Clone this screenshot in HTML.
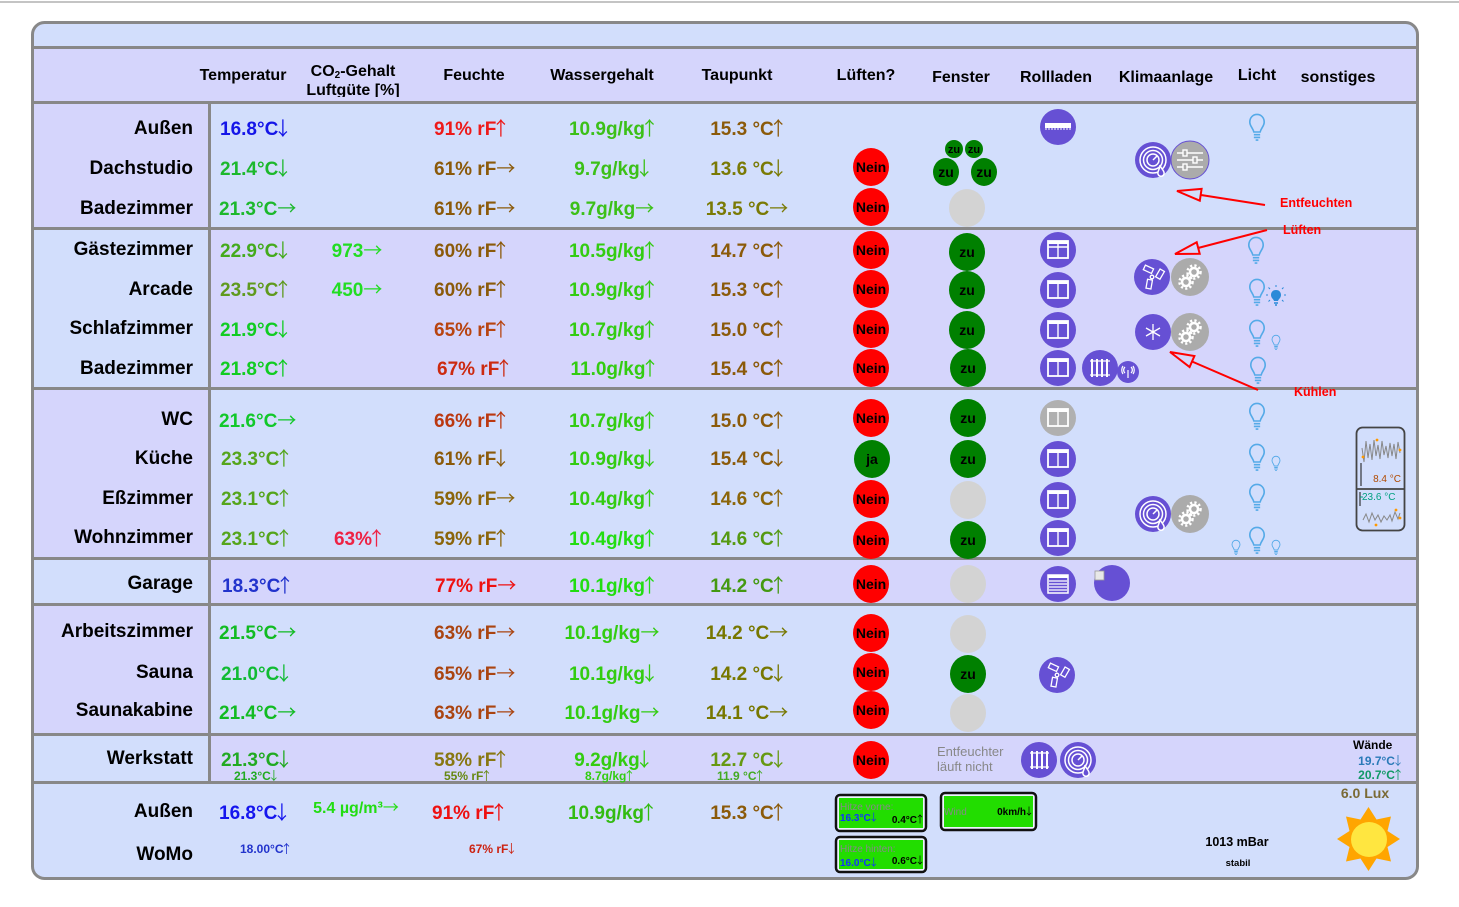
<!DOCTYPE html>
<html><head><meta charset="utf-8"><style>
html,body{margin:0;padding:0;background:#fff;width:1459px;height:907px;overflow:hidden}
svg{display:block}
text{font-family:"Liberation Sans","DejaVu Sans",sans-serif}
.h{font-weight:bold;font-size:16px;text-anchor:middle;fill:#000}
.lb{font-weight:bold;font-size:19px;text-anchor:end;fill:#000}
.v{font-weight:bold;font-size:19px}
.m{text-anchor:middle}
.a{font-weight:normal;font-family:"Noto Sans CJK JP","DejaVu Sans",sans-serif}
.c{font-weight:bold;font-size:14px;text-anchor:middle;fill:#000}
.s{font-weight:bold;font-size:12px}
.r{font-weight:bold;font-size:12.5px;fill:#f00}
</style></head><body>
<svg width="1459" height="907" xmlns="http://www.w3.org/2000/svg">
<defs>
<symbol id="bulb" viewBox="0 0 20 32">
<path d="M10 1.5C5 1.5 2 5.5 2 10C2 14.5 5.5 16.5 6.5 21L13.5 21C14.5 16.5 18 14.5 18 10C18 5.5 15 1.5 10 1.5Z" fill="none" stroke="#55aae8" stroke-width="1.8"/>
<path d="M6.5 24L13.5 24M6.5 27L13.5 27M8.5 30L11.5 30" stroke="#55aae8" stroke-width="1.8"/>
</symbol>
<g id="win"><circle r="18" fill="#6650d4"/><rect x="-10" y="-9" width="20" height="17" fill="none" stroke="#fff" stroke-width="1.8"/><rect x="-10" y="-9" width="20" height="3" fill="#fff"/><line x1="0" y1="-6" x2="0" y2="8" stroke="#fff" stroke-width="1.4"/></g>
<g id="gears"><circle r="19" fill="#ababab"/><g fill="none" stroke="#fff"><circle cx="4" cy="-5" r="4" stroke-width="2.5"/><circle cx="4" cy="-5" r="6.5" stroke-width="2.5" stroke-dasharray="2.2 2.2"/><circle cx="-4" cy="5" r="4" stroke-width="2.5"/><circle cx="-4" cy="5" r="6.5" stroke-width="2.5" stroke-dasharray="2.2 2.2"/></g></g>
<g id="dehum"><circle r="18" fill="#6650d4"/><g fill="none" stroke="#fff" stroke-width="1.5"><circle r="13"/><circle r="9.5"/><circle r="6"/><line x1="0" y1="0" x2="4" y2="-4"/><path d="M7 5C7 9 4 12 5 14C6 17 10 17 11 14C12 11 8 9 7 5Z" fill="#6650d4"/></g></g>
<g id="fan"><circle r="18" fill="#6650d4"/><g fill="none" stroke="#fff" stroke-width="1.3"><rect x="-11" y="-8" width="9" height="5" transform="rotate(25)"/><rect x="3" y="-11" width="5" height="9" transform="rotate(30)"/><rect x="-4" y="3" width="5" height="9" transform="rotate(10)"/><circle r="1.8"/></g></g>
<clipPath id="hc"><rect x="280" y="49" width="150" height="48"/></clipPath>
</defs>
<rect width="1459" height="907" fill="#fff"/>
<rect x="0" y="1" width="1459" height="2" fill="#c4c4c4"/>
<rect x="32.5" y="22.5" width="1385" height="856" rx="12" fill="#d2defc"/>
<!-- bands -->
<rect x="34" y="49" width="1382" height="52" fill="#d5d5fc"/>
<rect x="34" y="104" width="174" height="123" fill="#d5d5fc"/>
<rect x="211" y="230" width="1205" height="157" fill="#d5d5fc"/>
<rect x="34" y="390" width="174" height="167" fill="#d5d5fc"/>
<rect x="211" y="560" width="1205" height="43" fill="#d5d5fc"/>
<rect x="34" y="606" width="174" height="127" fill="#d5d5fc"/>
<rect x="211" y="736" width="1205" height="45" fill="#d5d5fc"/>
<g fill="#888">
<rect x="34" y="46" width="1382" height="3"/>
<rect x="34" y="101" width="1382" height="3"/>
<rect x="34" y="227" width="1382" height="3"/>
<rect x="34" y="387" width="1382" height="3"/>
<rect x="34" y="557" width="1382" height="3"/>
<rect x="34" y="603" width="1382" height="3"/>
<rect x="34" y="733" width="1382" height="3"/>
<rect x="34" y="781" width="1382" height="3"/>
<rect x="208" y="101" width="3" height="683"/>
</g>
<rect x="32.5" y="22.5" width="1385" height="856" rx="12" fill="none" stroke="#888" stroke-width="3"/>

<!-- header -->
<text class="h" x="243" y="80">Temperatur</text>
<g clip-path="url(#hc)">
<text class="h" x="353" y="76">CO<tspan font-size="10" dy="2">2</tspan><tspan dy="-2">-Gehalt</tspan></text>
<text class="h" x="353" y="95">Luftgüte [%]</text>
</g>
<text class="h" x="474" y="80">Feuchte</text>
<text class="h" x="602" y="80">Wassergehalt</text>
<text class="h" x="737" y="80">Taupunkt</text>
<text class="h" x="866" y="80">Lüften?</text>
<text class="h" x="961" y="82">Fenster</text>
<text class="h" x="1056" y="82">Rollladen</text>
<text class="h" x="1166" y="82">Klimaanlage</text>
<text class="h" x="1257" y="80">Licht</text>
<text class="h" x="1338" y="82">sonstiges</text>

<!-- labels -->
<text class="lb" x="193" y="134">Außen</text>
<text class="lb" x="193" y="174">Dachstudio</text>
<text class="lb" x="193" y="214">Badezimmer</text>
<text class="lb" x="193" y="255">Gästezimmer</text>
<text class="lb" x="193" y="295">Arcade</text>
<text class="lb" x="193" y="334">Schlafzimmer</text>
<text class="lb" x="193" y="374">Badezimmer</text>
<text class="lb" x="193" y="425">WC</text>
<text class="lb" x="193" y="464">Küche</text>
<text class="lb" x="193" y="504">Eßzimmer</text>
<text class="lb" x="193" y="543">Wohnzimmer</text>
<text class="lb" x="193" y="589">Garage</text>
<text class="lb" x="193" y="637">Arbeitszimmer</text>
<text class="lb" x="193" y="678">Sauna</text>
<text class="lb" x="193" y="716">Saunakabine</text>
<text class="lb" x="193" y="764">Werkstatt</text>
<text class="lb" x="193" y="817">Außen</text>
<text class="lb" x="193" y="860">WoMo</text>

<!-- Temperature -->
<g class="v">
<text x="220" y="135" fill="#1515e8">16.8°C<tspan class="a" dx="-5">↓</tspan></text>
<text x="220" y="175" fill="#1cb82c">21.4°C<tspan class="a" dx="-5">↓</tspan></text>
<text x="219" y="215" fill="#1cb82c">21.3°C<tspan class="a">→</tspan></text>
<text x="220" y="257" fill="#44aa1c">22.9°C<tspan class="a" dx="-5">↓</tspan></text>
<text x="220" y="296" fill="#5f9a1e">23.5°C<tspan class="a" dx="-5">↑</tspan></text>
<text x="220" y="336" fill="#11cc22">21.9°C<tspan class="a" dx="-5">↓</tspan></text>
<text x="220" y="375" fill="#11cc22">21.8°C<tspan class="a" dx="-5">↑</tspan></text>
<text x="219" y="427" fill="#11c82a">21.6°C<tspan class="a">→</tspan></text>
<text x="221" y="465" fill="#55a51c">23.3°C<tspan class="a" dx="-5">↑</tspan></text>
<text x="221" y="505" fill="#55a51c">23.1°C<tspan class="a" dx="-5">↑</tspan></text>
<text x="221" y="545" fill="#55a51c">23.1°C<tspan class="a" dx="-5">↑</tspan></text>
<text x="222" y="592" fill="#2233cc">18.3°C<tspan class="a" dx="-5">↑</tspan></text>
<text x="219" y="639" fill="#11bb22">21.5°C<tspan class="a">→</tspan></text>
<text x="221" y="680" fill="#11bb33">21.0°C<tspan class="a" dx="-5">↓</tspan></text>
<text x="219" y="719" fill="#11bb22">21.4°C<tspan class="a">→</tspan></text>
<text x="221" y="766" fill="#22aa22">21.3°C<tspan class="a" dx="-5">↓</tspan></text>
<text x="219" y="819" fill="#1515ee">16.8°C<tspan class="a" dx="-5">↓</tspan></text>
</g>
<!-- CO2 -->
<g class="v m">
<text x="357" y="257" fill="#22dd22">973<tspan class="a">→</tspan></text>
<text x="357" y="296" fill="#22dd22">450<tspan class="a">→</tspan></text>
<text x="360" y="545" fill="#ee2244">63%<tspan class="a" dx="-5">↑</tspan></text>
</g>
<text x="356" y="813" text-anchor="middle" font-weight="bold" font-size="16" fill="#22dd11">5.4 µg/m³<tspan class="a">→</tspan></text>
<!-- Feuchte -->
<g class="v">
<text x="434" y="135" fill="#ee1a1a">91% rF<tspan class="a" dx="-5">↑</tspan></text>
<text x="434" y="175" fill="#8b5a0a">61% rF<tspan class="a">→</tspan></text>
<text x="434" y="215" fill="#8b5a0a">61% rF<tspan class="a">→</tspan></text>
<text x="434" y="257" fill="#8b5a0a">60% rF<tspan class="a" dx="-5">↑</tspan></text>
<text x="434" y="296" fill="#8b5a0a">60% rF<tspan class="a" dx="-5">↑</tspan></text>
<text x="434" y="336" fill="#b84410">65% rF<tspan class="a" dx="-5">↑</tspan></text>
<text x="437" y="375" fill="#cc2a10">67% rF<tspan class="a" dx="-5">↑</tspan></text>
<text x="434" y="427" fill="#bb3810">66% rF<tspan class="a" dx="-5">↑</tspan></text>
<text x="434" y="465" fill="#8b5a0a">61% rF<tspan class="a" dx="-5">↓</tspan></text>
<text x="434" y="505" fill="#8b650a">59% rF<tspan class="a">→</tspan></text>
<text x="434" y="545" fill="#8b650a">59% rF<tspan class="a" dx="-5">↑</tspan></text>
<text x="435" y="592" fill="#ee1111">77% rF<tspan class="a">→</tspan></text>
<text x="434" y="639" fill="#aa4411">63% rF<tspan class="a">→</tspan></text>
<text x="434" y="680" fill="#aa4411">65% rF<tspan class="a">→</tspan></text>
<text x="434" y="719" fill="#aa4411">63% rF<tspan class="a">→</tspan></text>
<text x="434" y="766" fill="#887711">58% rF<tspan class="a" dx="-5">↑</tspan></text>
<text x="432" y="819" fill="#ee1111">91% rF<tspan class="a" dx="-5">↑</tspan></text>
</g>
<!-- Wassergehalt -->
<g class="v m">
<text x="614" y="135" fill="#3cc018">10.9g/kg<tspan class="a" dx="-5">↑</tspan></text>
<text x="614" y="175" fill="#3cc018">9.7g/kg<tspan class="a" dx="-5">↓</tspan></text>
<text x="612" y="215" fill="#3cc018">9.7g/kg<tspan class="a">→</tspan></text>
<text x="614" y="257" fill="#33cc11">10.5g/kg<tspan class="a" dx="-5">↑</tspan></text>
<text x="614" y="296" fill="#33cc11">10.9g/kg<tspan class="a" dx="-5">↑</tspan></text>
<text x="614" y="336" fill="#33cc11">10.7g/kg<tspan class="a" dx="-5">↑</tspan></text>
<text x="615" y="375" fill="#33cc11">11.0g/kg<tspan class="a" dx="-5">↑</tspan></text>
<text x="614" y="427" fill="#33cc11">10.7g/kg<tspan class="a" dx="-5">↑</tspan></text>
<text x="614" y="465" fill="#33cc11">10.9g/kg<tspan class="a" dx="-5">↓</tspan></text>
<text x="614" y="505" fill="#33cc11">10.4g/kg<tspan class="a" dx="-5">↑</tspan></text>
<text x="614" y="545" fill="#22dd11">10.4g/kg<tspan class="a" dx="-5">↑</tspan></text>
<text x="614" y="592" fill="#22dd11">10.1g/kg<tspan class="a" dx="-5">↑</tspan></text>
<text x="612" y="639" fill="#33cc11">10.1g/kg<tspan class="a">→</tspan></text>
<text x="614" y="680" fill="#33cc11">10.1g/kg<tspan class="a" dx="-5">↓</tspan></text>
<text x="612" y="719" fill="#33cc11">10.1g/kg<tspan class="a">→</tspan></text>
<text x="614" y="766" fill="#33cc11">9.2g/kg<tspan class="a" dx="-5">↓</tspan></text>
<text x="613" y="819" fill="#33bb11">10.9g/kg<tspan class="a" dx="-5">↑</tspan></text>
</g>
<!-- Taupunkt -->
<g class="v m">
<text x="749" y="135" fill="#8b5a0a">15.3 °C<tspan class="a" dx="-5">↑</tspan></text>
<text x="749" y="175" fill="#7a7a05">13.6 °C<tspan class="a" dx="-5">↓</tspan></text>
<text x="747" y="215" fill="#7a7a05">13.5 °C<tspan class="a">→</tspan></text>
<text x="749" y="257" fill="#8b5a0a">14.7 °C<tspan class="a" dx="-5">↑</tspan></text>
<text x="749" y="296" fill="#8b5a0a">15.3 °C<tspan class="a" dx="-5">↑</tspan></text>
<text x="749" y="336" fill="#8b5a0a">15.0 °C<tspan class="a" dx="-5">↑</tspan></text>
<text x="749" y="375" fill="#8b5a0a">15.4 °C<tspan class="a" dx="-5">↑</tspan></text>
<text x="749" y="427" fill="#8b5a0a">15.0 °C<tspan class="a" dx="-5">↑</tspan></text>
<text x="749" y="465" fill="#8b5a0a">15.4 °C<tspan class="a" dx="-5">↓</tspan></text>
<text x="749" y="505" fill="#8b650a">14.6 °C<tspan class="a" dx="-5">↑</tspan></text>
<text x="749" y="545" fill="#559911">14.6 °C<tspan class="a" dx="-5">↑</tspan></text>
<text x="749" y="592" fill="#449911">14.2 °C<tspan class="a" dx="-5">↑</tspan></text>
<text x="747" y="639" fill="#777700">14.2 °C<tspan class="a">→</tspan></text>
<text x="749" y="680" fill="#777700">14.2 °C<tspan class="a" dx="-5">↓</tspan></text>
<text x="747" y="719" fill="#777700">14.1 °C<tspan class="a">→</tspan></text>
<text x="749" y="766" fill="#669911">12.7 °C<tspan class="a" dx="-5">↓</tspan></text>
<text x="749" y="819" fill="#8b5a0a">15.3 °C<tspan class="a" dx="-5">↑</tspan></text>
</g>
<!-- small sub values -->
<g class="s">
<text x="234" y="780" fill="#22aa22">21.3°C<tspan class="a" dx="-3">↓</tspan></text>
<text x="444" y="780" fill="#668811">55% rF<tspan class="a" dx="-3">↑</tspan></text>
<text x="585" y="780" fill="#33cc11">8.7g/kg<tspan class="a" dx="-3">↑</tspan></text>
<text x="717" y="780" fill="#44aa22">11.9 °C<tspan class="a" dx="-3">↑</tspan></text>
<text x="240" y="853" fill="#2233cc">18.00°C<tspan class="a" dx="-3">↑</tspan></text>
<text x="469" y="853" fill="#cc2211">67% rF<tspan class="a" dx="-3">↓</tspan></text>
</g>

<!-- Lüften circles -->
<g fill="#ff0000">
<ellipse cx="871" cy="167" rx="18" ry="19"/>
<ellipse cx="871" cy="207" rx="18" ry="19"/>
<ellipse cx="871" cy="250" rx="18" ry="19"/>
<ellipse cx="871" cy="289" rx="18" ry="19"/>
<ellipse cx="871" cy="329" rx="18" ry="19"/>
<ellipse cx="871" cy="368" rx="18" ry="19"/>
<ellipse cx="871" cy="418" rx="18" ry="19"/>
<ellipse cx="871" cy="499" rx="18" ry="19"/>
<ellipse cx="871" cy="540" rx="18" ry="19"/>
<ellipse cx="871" cy="584" rx="18" ry="19"/>
<ellipse cx="871" cy="633" rx="18" ry="19"/>
<ellipse cx="871" cy="672" rx="18" ry="19"/>
<ellipse cx="871" cy="710" rx="18" ry="19"/>
<ellipse cx="871" cy="760" rx="18" ry="19"/>
</g>
<ellipse cx="872" cy="459" rx="18" ry="19" fill="#008000"/>
<g class="c">
<text x="871" y="172">Nein</text><text x="871" y="212">Nein</text><text x="871" y="255">Nein</text>
<text x="871" y="294">Nein</text><text x="871" y="334">Nein</text><text x="871" y="373">Nein</text>
<text x="871" y="423">Nein</text><text x="872" y="464">ja</text><text x="871" y="504">Nein</text>
<text x="871" y="545">Nein</text><text x="871" y="589">Nein</text><text x="871" y="638">Nein</text>
<text x="871" y="677">Nein</text><text x="871" y="715">Nein</text><text x="871" y="765">Nein</text>
</g>

<!-- Fenster -->
<g fill="#008000">
<circle cx="954" cy="149" r="9"/><circle cx="974" cy="149" r="9"/>
<ellipse cx="946" cy="172" rx="13" ry="14"/><ellipse cx="984" cy="172" rx="13" ry="14"/>
<ellipse cx="967" cy="252" rx="18" ry="19"/><ellipse cx="967" cy="290" rx="18" ry="19"/>
<ellipse cx="967" cy="330" rx="18" ry="19"/><ellipse cx="968" cy="368" rx="18" ry="19"/>
<ellipse cx="968" cy="418" rx="18" ry="19"/><ellipse cx="968" cy="459" rx="18" ry="19"/>
<ellipse cx="968" cy="540" rx="18" ry="19"/><ellipse cx="968" cy="674" rx="18" ry="19"/>
</g>
<g fill="#d3d3d3">
<ellipse cx="967" cy="208" rx="18" ry="19"/><ellipse cx="968" cy="500" rx="18" ry="19"/>
<ellipse cx="968" cy="584" rx="18" ry="19"/><ellipse cx="968" cy="634" rx="18" ry="19"/>
<ellipse cx="968" cy="713" rx="18" ry="19"/>
</g>
<g class="c">
<text x="954" y="153" font-size="11">zu</text><text x="974" y="153" font-size="11">zu</text>
<text x="946" y="177">zu</text><text x="984" y="177">zu</text>
<text x="967" y="257">zu</text><text x="967" y="295">zu</text><text x="967" y="335">zu</text>
<text x="968" y="373">zu</text><text x="968" y="423">zu</text><text x="968" y="464">zu</text>
<text x="968" y="545">zu</text><text x="968" y="679">zu</text>
</g>
<text x="937" y="756" font-size="13" fill="#888">Entfeuchter</text>
<text x="937" y="771" font-size="13" fill="#888">läuft nicht</text>

<!-- Rollladen -->
<g transform="translate(1058,127)"><circle r="18" fill="#6650d4"/><rect x="-13" y="-4" width="26" height="5" fill="#fff"/><path d="M-13 2 L13 2" stroke="#fff" stroke-width="1" stroke-dasharray="2 1"/></g>
<g transform="translate(1058,250)"><use href="#win"/><line x1="-10" y1="-3" x2="10" y2="-3" stroke="#fff" stroke-width="1.5"/></g>
<use href="#win" transform="translate(1058,290)"/>
<use href="#win" transform="translate(1058,330)"/>
<use href="#win" transform="translate(1058,368)"/>
<g transform="translate(1058,418)"><circle r="18" fill="#b0b0b0"/><rect x="-10" y="-9" width="20" height="17" fill="none" stroke="#fff" stroke-width="1.8"/><rect x="-10" y="-9" width="20" height="3" fill="#fff"/><line x1="0" y1="-6" x2="0" y2="8" stroke="#fff" stroke-width="1.4"/></g>
<use href="#win" transform="translate(1058,459)"/>
<use href="#win" transform="translate(1058,500)"/>
<use href="#win" transform="translate(1058,538)"/>
<g transform="translate(1100,368)"><circle r="18" fill="#6650d4"/><g stroke="#fff" stroke-width="2" fill="none"><path d="M-8 -9V9M-3 -9V9M2 -9V9M7 -9V9"/><path d="M-10 -7H10M-10 7H10" stroke-width="1.2"/></g></g>
<g transform="translate(1128,372)"><circle r="11" fill="#6650d4"/><g stroke="#fff" stroke-width="1.2" fill="none"><path d="M0 -2V6M-3 -5A4 4 0 0 0 -3 1M3 -5A4 4 0 0 1 3 1M-5 -6A7 7 0 0 0 -5 2M5 -6A7 7 0 0 1 5 2"/></g></g>
<g transform="translate(1058,584)"><circle r="18" fill="#6650d4"/><rect x="-10" y="-9" width="20" height="18" fill="none" stroke="#fff" stroke-width="1.5"/><rect x="-10" y="-9" width="20" height="3" fill="#fff"/><path d="M-9 -3H9M-9 0H9M-9 3H9M-9 6H9" stroke="#fff" stroke-width="1.3"/></g>
<circle cx="1112" cy="583" r="18" fill="#6650d4"/>
<rect x="1095" y="571" width="9" height="9" fill="#e8e8e8" stroke="#999" stroke-width="0.8"/>
<use href="#fan" transform="translate(1057,675)"/>
<g transform="translate(1039,760)"><circle r="18" fill="#6650d4"/><g stroke="#fff" stroke-width="2" fill="none"><path d="M-7 -9V9M-2 -9V9M3 -9V9M8 -9V9"/><path d="M-9 -7H10M-9 7H10" stroke-width="1.2"/></g></g>
<use href="#dehum" transform="translate(1078,760)"/>

<!-- Klimaanlage -->
<use href="#dehum" transform="translate(1153,160)"/>
<g transform="translate(1190,160)"><circle r="19" fill="#ababab" stroke="#6650d4" stroke-width="1"/><g stroke="#fff" stroke-width="1.4" fill="#ababab"><path d="M-13 -7H13M-13 0H13M-13 7H13"/><rect x="-7" y="-10" width="4" height="6"/><rect x="3" y="-3" width="4" height="6"/><rect x="-7" y="4" width="4" height="6"/></g></g>
<use href="#fan" transform="translate(1152,277)"/>
<use href="#gears" transform="translate(1190,277)"/>
<g transform="translate(1153,332)"><circle r="18" fill="#6650d4"/><g stroke="#fff" stroke-width="1.3"><path d="M0 -8V8M-7 -4L7 4M-7 4L7 -4"/></g></g>
<use href="#gears" transform="translate(1190,332)"/>
<use href="#dehum" transform="translate(1153,514)"/>
<use href="#gears" transform="translate(1190,514)"/>

<!-- Licht -->
<use href="#bulb" x="1248" y="113" width="18" height="29"/>
<use href="#bulb" x="1247" y="236" width="18" height="29"/>
<use href="#bulb" x="1248" y="278" width="18" height="29"/>
<use href="#bulb" x="1248" y="319" width="18" height="29"/>
<use href="#bulb" x="1249" y="356" width="18" height="29"/>
<use href="#bulb" x="1248" y="402" width="18" height="29"/>
<use href="#bulb" x="1248" y="443" width="18" height="29"/>
<use href="#bulb" x="1248" y="483" width="18" height="29"/>
<use href="#bulb" x="1248" y="526" width="18" height="29"/>
<use href="#bulb" x="1271" y="334" width="10" height="17"/>
<use href="#bulb" x="1271" y="455" width="10" height="17"/>
<use href="#bulb" x="1231" y="539" width="10" height="17"/>
<use href="#bulb" x="1271" y="539" width="10" height="17"/>
<g transform="translate(1276,296)"><path d="M0 -6C-3.5 -6 -5 -3.5 -5 -1C-5 2 -2.5 3 -2 5L2 5C2.5 3 5 2 5 -1C5 -3.5 3.5 -6 0 -6Z" fill="#2a8ad8"/><path d="M-2 7H2M-1 9H1" stroke="#2a8ad8" stroke-width="1.5"/><path d="M-8 -1H-10M8 -1H10M0 -9V-11M-6 -7L-7.5 -8.5M6 -7L7.5 -8.5M-6 4L-7.5 5.5M6 4L7.5 5.5" stroke="#2a8ad8" stroke-width="1"/></g>

<!-- Thermo widget -->
<rect x="1356.5" y="427.5" width="48" height="103" rx="6" fill="none" stroke="#444" stroke-width="1.8"/>
<line x1="1357" y1="489" x2="1404" y2="489" stroke="#444" stroke-width="1.8"/>
<polyline points="1362,448 1364,462 1366,441 1368,458 1370,444 1372,460 1374,440 1376,456 1378,445 1380,459 1382,441 1384,455 1386,446 1388,458 1390,443 1392,456 1394,444 1396,459 1398,442 1400,453" fill="none" stroke="#888" stroke-width="1"/>
<circle cx="1363" cy="457" r="1.4" fill="#f90"/><circle cx="1377" cy="440" r="1.4" fill="#f90"/><circle cx="1400" cy="450" r="1.4" fill="#f90"/>
<line x1="1361" y1="463" x2="1361" y2="486" stroke="#111" stroke-width="1"/>
<text x="1401" y="482" text-anchor="end" font-size="10" fill="#b04a00">8.4 °C</text>
<line x1="1360" y1="492" x2="1360" y2="506" stroke="#111" stroke-width="1"/>
<text x="1362" y="500" font-size="10" fill="#00a080">23.6 °C</text>
<line x1="1360" y1="497" x2="1363" y2="497" stroke="#00a080" stroke-width="1"/>
<polyline points="1363,520 1366,514 1369,522 1372,513 1375,520 1378,515 1381,522 1384,516 1387,520 1390,515 1392,521 1395,512 1398,519 1400,513" fill="none" stroke="#888" stroke-width="1"/>
<circle cx="1376" cy="525" r="1.4" fill="#f90"/><circle cx="1396" cy="510" r="1.4" fill="#f90"/><circle cx="1400" cy="518" r="1.4" fill="#f90"/>

<!-- annotations -->
<g stroke="#f00" stroke-width="2" fill="none">
<line x1="1265" y1="205" x2="1201" y2="195"/>
<polygon points="1177,191 1201.6,188.9 1199.8,200.7"/>
<line x1="1267" y1="230" x2="1198" y2="248"/>
<polygon points="1175,254 1199.7,253.8 1196.7,242.2"/>
<line x1="1258" y1="390" x2="1192" y2="361.5"/>
<polygon points="1170,352 1194.4,356 1189.6,367"/>
</g>
<text class="r" x="1280" y="207">Entfeuchten</text>
<text class="r" x="1283" y="234">Lüften</text>
<text class="r" x="1294" y="396">Kühlen</text>

<!-- Wände -->
<text class="s" x="1353" y="749" fill="#000">Wände</text>
<text class="s" x="1404" y="765" text-anchor="end" fill="#2a7ab8">19.7°C<tspan class="a" dx="-3">↓</tspan></text>
<text class="s" x="1404" y="779" text-anchor="end" fill="#119966">20.7°C<tspan class="a" dx="-3">↑</tspan></text>

<!-- bottom boxes -->
<rect x="836" y="795" width="90" height="36" rx="4" fill="#eef3ff" stroke="#111" stroke-width="2.5"/>
<rect x="839" y="798" width="84" height="30" fill="#22dd00"/>
<text x="840" y="810" font-size="10" fill="#888">Hitze vorne:</text>
<text x="840" y="821" font-size="10" font-weight="bold" fill="#1133ff">16.3°C<tspan class="a" dx="-2">↓</tspan></text>
<text x="925" y="823" font-size="10" font-weight="bold" text-anchor="end" fill="#000">0.4°C<tspan class="a" dx="-2">↑</tspan></text>
<rect x="941" y="793" width="95" height="37" rx="4" fill="#eef3ff" stroke="#111" stroke-width="2.5"/>
<rect x="944" y="796" width="89" height="31" fill="#22dd00"/>
<text x="944" y="815" font-size="10" fill="#888">Wind</text>
<text x="1034" y="815" font-size="10" font-weight="bold" text-anchor="end" fill="#000">0km/h<tspan class="a" dx="-2">↓</tspan></text>
<rect x="836" y="837" width="90" height="35" rx="4" fill="#eef3ff" stroke="#111" stroke-width="2.5"/>
<rect x="839" y="840" width="84" height="29" fill="#22dd00"/>
<text x="840" y="852" font-size="10" fill="#888">Hitze hinten:</text>
<text x="840" y="866" font-size="10" font-weight="bold" fill="#1133ff">16.0°C<tspan class="a" dx="-2">↓</tspan></text>
<text x="925" y="864" font-size="10" font-weight="bold" text-anchor="end" fill="#000">0.6°C<tspan class="a" dx="-2">↓</tspan></text>

<text x="1237" y="846" text-anchor="middle" font-size="12.5" font-weight="bold" fill="#000">1013 mBar</text>
<text x="1238" y="866" text-anchor="middle" font-size="9.5" font-weight="bold" fill="#000">stabil</text>
<text x="1365" y="798" text-anchor="middle" font-size="14" font-weight="bold" fill="#7a6a35">6.0 Lux</text>
<polygon fill="#ffa500" points="1368.5,807 1376.5,819.5 1391,816.5 1387.5,831 1400,839 1387.5,847 1391,861.5 1376.5,858.5 1368.5,871 1360.5,858.5 1346,861.5 1349.5,847 1337,839 1349.5,831 1346,816.5 1360.5,819.5"/>
<ellipse cx="1369" cy="839.5" rx="18" ry="17.5" fill="#ffe640"/>
</svg>
</body></html>
